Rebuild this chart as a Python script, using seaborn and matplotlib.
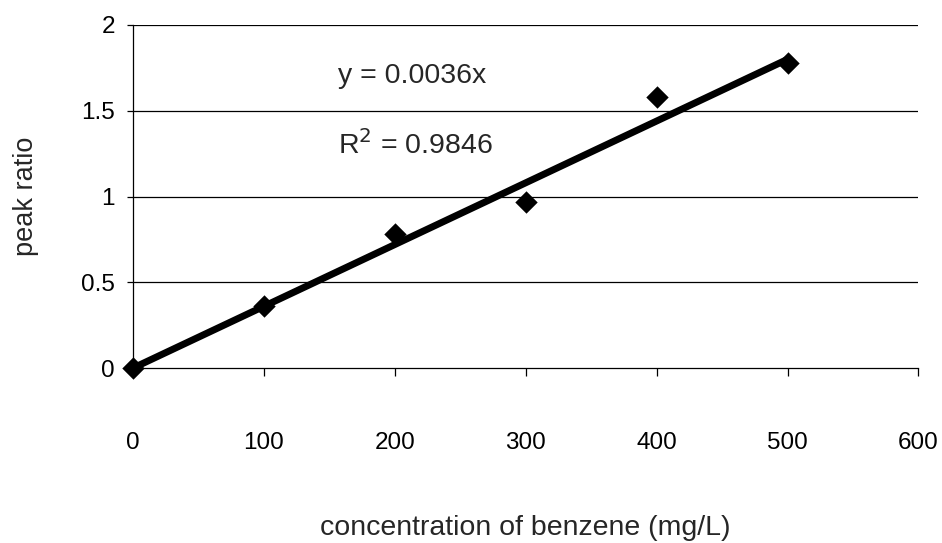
import numpy as np
import pandas as pd
import matplotlib
matplotlib.use("Agg")
import matplotlib.pyplot as plt
import seaborn as sns

# dane
concentration = [0, 100, 200, 300, 400, 500]
peak_ratio = [0.0, 0.36, 0.78, 0.97, 1.58, 1.78]
slope = 0.0036
r_squared = 0.9846
x_ticks = [0, 100, 200, 300, 400, 500, 600]
y_ticks = [0, 0.5, 1, 1.5, 2]
y_tick_labels = ["0", "0.5", "1", "1.5", "2"]

sns.set_style("white")
plt.rcParams['font.family'] = ['Liberation Sans', 'DejaVu Sans']

df = pd.DataFrame({"conc": concentration, "ratio": peak_ratio})
trend = pd.DataFrame({"conc": [concentration[0], concentration[-1]]})
trend["ratio"] = slope * trend["conc"]

fig = plt.figure(figsize=(9.42, 5.43), dpi=100)
ax = fig.add_axes([0.141, 0.322, 0.834, 0.632])

# linie siatki
for yv in y_ticks[1:]:
    ax.axhline(yv, color="black", linewidth=0.9, zorder=1)

sns.lineplot(data=trend, x="conc", y="ratio", color="black", linewidth=5,
             solid_capstyle="butt", ax=ax, zorder=3)
sns.scatterplot(data=df, x="conc", y="ratio", marker="D", color="black", s=130,
                edgecolor="black", linewidth=0, ax=ax, zorder=4, clip_on=False)

ax.set_xlim(0, 600)
ax.set_ylim(0, 2)
ax.set_xticks(x_ticks)
ax.set_yticks(y_ticks)
ax.set_yticklabels(y_tick_labels)

for s in ["top", "right"]:
    ax.spines[s].set_visible(False)
for s in ["left", "bottom"]:
    ax.spines[s].set_color("black")
    ax.spines[s].set_linewidth(0.9)

ax.tick_params(axis="x", direction="out", length=6, width=0.9, pad=40,
               labelsize=17.5, bottom=True, colors="black")
ax.tick_params(axis="y", direction="out", length=4, width=0.9, pad=9,
               labelsize=17.5, left=True, colors="black")

ax.set_xlabel("concentration of benzene (mg/L)", fontsize=20.5, labelpad=44)
ax.set_ylabel("peak ratio", fontsize=19.5, labelpad=30)

ax.text(157, 1.70, f"y = {slope}x", fontsize=20.5, va="center", ha="left")
ax.text(157, 1.30, f"R$^2$ = {r_squared}", fontsize=20.5, va="center", ha="left")

plt.savefig("out.png", dpi=100)
plt.close()
